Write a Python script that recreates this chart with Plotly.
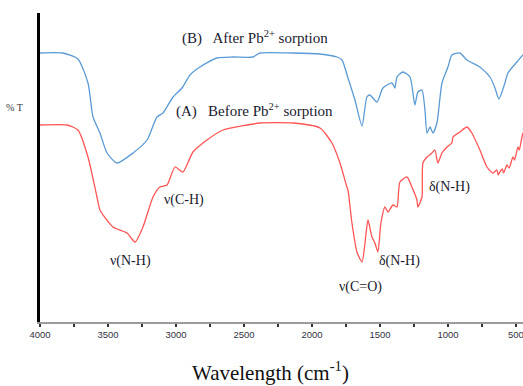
import plotly.graph_objects as go

# Wavenumber (cm-1) and transmittance (arbitrary %T units)
wn_b = [4000, 3831, 3721, 3647, 3610, 3559, 3507, 3434, 3316, 3213, 3140, 3096, 3022, 2956,
        2897, 2824, 2699, 2581, 2434, 2382, 2140, 1941, 1816, 1779, 1735, 1684, 1632, 1596,
        1574, 1522, 1478, 1412, 1390, 1375, 1331, 1279, 1243, 1221, 1191, 1169, 1154, 1132,
        1110, 1081, 1044, 1000, 971, 912, 860, 765, 691, 654, 625, 581, 559, 493, 449]
t_b = [269, 269, 263, 239, 205, 189, 169, 159, 169, 182, 205, 209, 225, 234,
       247, 255, 264, 265, 265, 269, 269, 268, 265, 262, 244, 222, 196, 225,
       227, 220, 234, 239, 234, 245, 250, 245, 217, 230, 232, 212, 189, 195,
       189, 199, 239, 255, 267, 269, 262, 255, 245, 234, 223, 239, 249, 260, 267]

wn_a = [4000, 3801, 3721, 3647, 3581, 3559, 3463, 3360, 3301, 3243, 3169, 3118, 3066, 3007,
        2949, 2875, 2772, 2654, 2478, 2382, 2140, 1941, 1853, 1794, 1743, 1735, 1706, 1669,
        1632, 1610, 1588, 1559, 1537, 1515, 1493, 1463, 1441, 1404, 1375, 1353, 1301, 1265,
        1228, 1221, 1191, 1184, 1154, 1118, 1096, 1074, 1044, 1007, 971, 963, 912, 860, 824,
        765, 713, 669, 640, 630, 618, 600, 590, 566, 550, 522, 510, 485, 475, 460, 449]
t_a = [197, 197, 192, 165, 125, 112, 95, 89, 80, 95, 125, 135, 137, 155,
       150, 170, 182, 192, 197, 199, 199, 194, 179, 159, 135, 132, 99, 70,
       60, 79, 102, 85, 79, 70, 99, 115, 110, 117, 115, 140, 145, 135,
       122, 115, 125, 159, 165, 169, 172, 159, 169, 175, 179, 185, 190, 195, 189,
       172, 155, 149, 152, 147, 150, 153, 149, 157, 154, 165, 162, 175, 172, 182, 189]

tick_vals = [4000, 3500, 3000, 2500, 2000, 1500, 1000, 500]
tick_text = ["4000", "3500", "3000", "2500", "2000", "1500", "1000", "500"]

labels = ["(B)   After Pb<sup>2+</sup> sorption", "(A)   Before Pb<sup>2+</sup> sorption",
          "ν(C-H)", "ν(N-H)", "ν(C=O)", "δ(N-H)", "δ(N-H)"]
label_x = [2419, 2426, 2941, 3331, 1640, 1353, 985]
label_y = [285, 212, 122, 61, 35, 61, 135]
label_size = [15, 15, 14, 14, 14, 14, 14]

fig = go.Figure()
fig.add_trace(go.Scatter(x=wn_b, y=t_b, mode="lines", line=dict(color="#5b9bd5", width=1.3),
                         line_shape="spline", line_smoothing=0.6, showlegend=False))
fig.add_trace(go.Scatter(x=wn_a, y=t_a, mode="lines", line=dict(color="#ff5555", width=1.3),
                         line_shape="spline", line_smoothing=0.6, showlegend=False))

serif = "Liberation Serif, Times New Roman, serif"
for txt, xx, yy, sz in zip(labels, label_x, label_y, label_size):
    fig.add_annotation(x=xx, y=yy, text=txt, showarrow=False,
                       font=dict(family=serif, size=sz, color="#1a1a2e"))

fig.add_annotation(xref="paper", yref="paper", x=-0.052, y=0.718, xanchor="center",
                   text="% T", showarrow=False,
                   font=dict(family=serif, size=10, color="#333"))
fig.add_annotation(xref="paper", yref="paper", x=0.478, y=-0.16, xanchor="center",
                   yanchor="middle", text="Wavelength (cm<sup>-1</sup>)", showarrow=False,
                   font=dict(family=serif, size=21, color="#111"))

fig.update_layout(
    width=523, height=386,
    margin=dict(l=40, r=0, t=13, b=64),
    plot_bgcolor="white", paper_bgcolor="white",
    xaxis=dict(range=[4000, 448], showgrid=False, zeroline=False,
               showline=True, linecolor="#9a9a9a", linewidth=1.5,
               tickmode="array", tickvals=tick_vals, ticktext=tick_text,
               ticks="outside", ticklen=3, tickwidth=1.5, tickcolor="#333",
               ticklabeloverflow="allow",
               minor=dict(dtick=250, tick0=0, ticks="outside", ticklen=3, tickwidth=1.5,
                          tickcolor="#333", showgrid=False),
               tickfont=dict(family="Liberation Sans Narrow, Liberation Sans, sans-serif",
                             size=9.5, color="#334")),
    yaxis=dict(range=[0, 309], showgrid=False, zeroline=False, showticklabels=False,
               showline=True, linecolor="black", linewidth=2.5, ticks=""),
)

fig.write_html("out.html")
